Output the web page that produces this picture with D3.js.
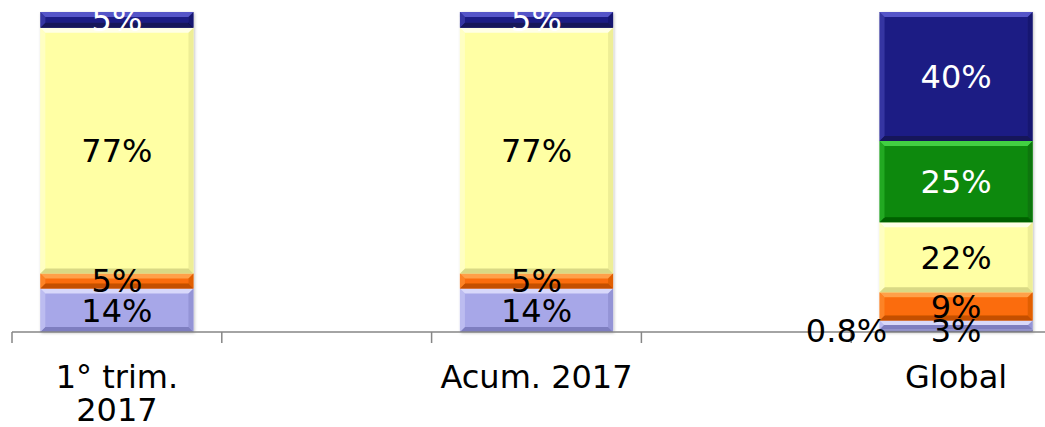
<!DOCTYPE html>
<html>
<head>
<meta charset="utf-8">
<script src="https://cdn.jsdelivr.net/npm/d3@7"></script>
<style>
  body { margin: 0; background: #fff; }
  text { font-family: "DejaVu Sans", Verdana, sans-serif; }
</style>
</head>
<body>
<svg id="chart" width="1045" height="427"></svg>
<script>
// categories (blank columns sit between the real ones, like in the sheet)
var categories = ["1° trim. 2017", "", "Acum. 2017", "", "Global"];
var tickLabels = [["1° trim.", "2017"], [], ["Acum. 2017"], [], ["Global"]];

// series, bottom to top (percent)
var seriesNames = ["otros", "lila", "naranja", "amarillo", "verde", "azul"];
var otros    = [0,    0, 0,    0, 0.8];
var lila     = [13.6, 0, 13.6, 0, 2.8];
var naranja  = [4.7,  0, 4.7,  0, 8.8];
var amarillo = [76.8, 0, 76.8, 0, 21.9];
var verde    = [0,    0, 0,    0, 25.4];
var azul     = [4.9,  0, 4.9,  0, 40.3];

var colors = {
  otros:    {fill: "#8080b8", light: "#b0b0e0", dark: "#5a5a90", text: "#000"},
  lila:     {fill: "#a7a7e8", light: "#d8d8fa", dark: "#7e7ec0", text: "#000"},
  naranja:  {fill: "#fb6c0a", light: "#ffa048", dark: "#c44f00", text: "#000"},
  amarillo: {fill: "#ffffa4", light: "#ffffe6", dark: "#d9d985", text: "#000"},
  verde:    {fill: "#0a890a", light: "#42d042", dark: "#056005", text: "#fff"},
  azul:     {fill: "#1e1e84", light: "#5555c8", dark: "#12125a", text: "#fff"}
};

var svg = d3.select("#chart");
var margin = {top: 12, bottom: 95, left: 12};
var plotBottom = 427 - margin.bottom;
var fontSize = 32;

var rows = categories.map(function(c, i) {
  return {idx: i, otros: otros[i], lila: lila[i], naranja: naranja[i],
          amarillo: amarillo[i], verde: verde[i], azul: azul[i]};
});

var stacked = d3.stack().keys(seriesNames)(rows);

var xScale = d3.scaleBand()
  .domain(d3.range(categories.length))
  .range([margin.left, 1061])
  .paddingInner(0.27)
  .paddingOuter(0.135);

var yScale = d3.scaleLinear().domain([0, 100]).range([plotBottom, margin.top]);

var defs = svg.append("defs");
var shadow = defs.append("filter").attr("id", "shadow")
  .attr("x", "-10%").attr("y", "-10%").attr("width", "120%").attr("height", "120%");
shadow.append("feDropShadow").attr("dx", 1).attr("dy", 1).attr("stdDeviation", 1.5)
  .attr("flood-color", "#000").attr("flood-opacity", 0.25);

var barsG = svg.append("g");

// a bevelled segment (Excel style)
function bevel(g, x0, y0, w, h, c) {
  var b = Math.min(5, h / 2);
  var x1 = x0 + w, y1 = y0 + h;
  g.append("rect").attr("x", x0).attr("y", y0).attr("width", w).attr("height", h)
    .attr("fill", c.fill);
  var pts = function(a) { return a.map(function(p) { return p.join(","); }).join(" "); };
  g.append("polygon").attr("fill", c.light)
    .attr("points", pts([[x0, y0], [x1, y0], [x1 - b, y0 + b], [x0 + b, y0 + b]]));
  g.append("polygon").attr("fill", c.dark)
    .attr("points", pts([[x0, y1], [x1, y1], [x1 - b, y1 - b], [x0 + b, y1 - b]]));
  g.append("polygon").attr("fill", c.light).attr("opacity", 0.45)
    .attr("points", pts([[x0, y0], [x0 + b, y0 + b], [x0 + b, y1 - b], [x0, y1]]));
  g.append("polygon").attr("fill", c.dark).attr("opacity", 0.45)
    .attr("points", pts([[x1, y0], [x1 - b, y0 + b], [x1 - b, y1 - b], [x1, y1]]));
}

rows.forEach(function(r) {
  var total = d3.sum(seriesNames, function(k) { return r[k]; });
  if (!total) return;
  var g = barsG.append("g").attr("filter", "url(#shadow)");
  stacked.forEach(function(s) {
    var d = s[r.idx];
    if (d[1] - d[0] <= 0) return;
    var top = yScale(d[1]), bot = yScale(d[0]);
    bevel(g, xScale(r.idx), top, xScale.bandwidth(), bot - top, colors[s.key]);
  });
});

// axis line + ticks at the band edges
var axisG = svg.append("g");
axisG.append("line")
  .attr("x1", margin.left).attr("x2", 1045)
  .attr("y1", plotBottom).attr("y2", plotBottom)
  .attr("stroke", "#868686").attr("stroke-width", 1.5);
d3.range(categories.length + 1).forEach(function(i) {
  var tx = xScale.range()[0] + i * xScale.step();
  axisG.append("line")
    .attr("x1", tx).attr("x2", tx)
    .attr("y1", plotBottom).attr("y2", plotBottom + 11)
    .attr("stroke", "#868686").attr("stroke-width", 1.5);
});

// category labels
tickLabels.forEach(function(lines, i) {
  var t = axisG.append("text")
    .attr("x", xScale(i) + xScale.bandwidth() / 2)
    .attr("y", plotBottom + 56)
    .attr("text-anchor", "middle")
    .attr("font-size", fontSize)
    .attr("fill", "#000");
  lines.forEach(function(l, j) {
    t.append("tspan").attr("x", xScale(i) + xScale.bandwidth() / 2)
      .attr("dy", j ? 33 : 0).text(l);
  });
});

// value labels
var fmt = function(v) { return v < 1 ? d3.format(".1f")(v) + "%" : d3.format(".0f")(v) + "%"; };
var labelsG = svg.append("g");
stacked.forEach(function(s) {
  s.forEach(function(d, i) {
    var v = d[1] - d[0];
    if (v <= 0) return;
    var cx = xScale(i) + xScale.bandwidth() / 2;
    var cy = (yScale(d[0]) + yScale(d[1])) / 2;
    if (s.key === "otros") { cx = xScale(i) - 33; cy = plotBottom - 2; }
    if (s.key === "lila" && v < 5) { cy = plotBottom - 2; }
    labelsG.append("text")
      .attr("x", cx).attr("y", cy)
      .attr("dy", "0.36em")
      .attr("text-anchor", "middle")
      .attr("font-size", fontSize)
      .attr("fill", s.key === "otros" ? "#000" : colors[s.key].text)
      .text(fmt(v));
  });
});
</script>
</body>
</html>
